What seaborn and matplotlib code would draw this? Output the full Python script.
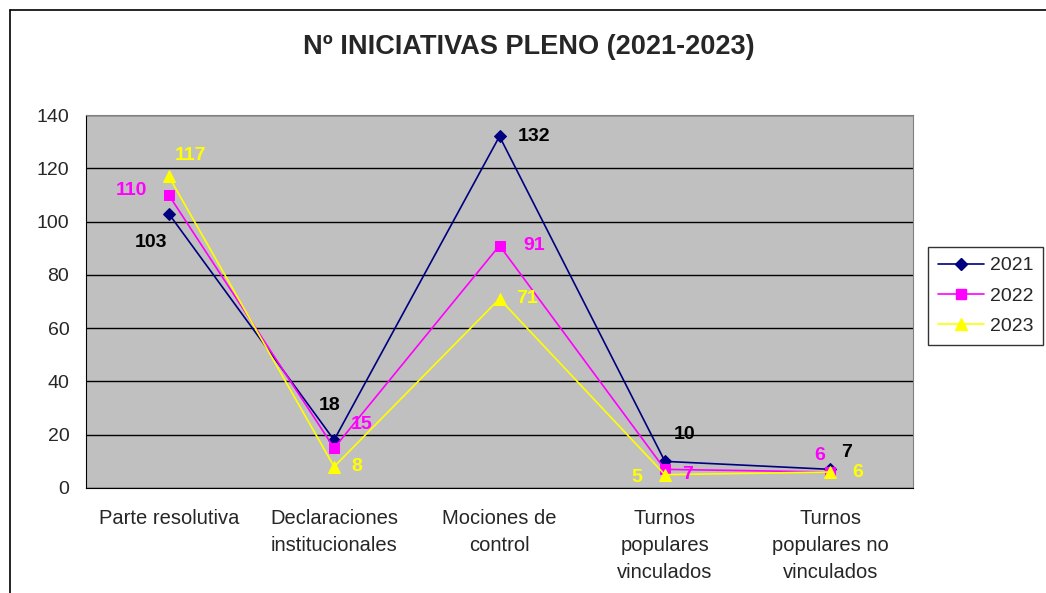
import numpy as np
import pandas as pd
import seaborn as sns
from matplotlib import pyplot as plt
from matplotlib.lines import Line2D

# datos
categorias = ["Parte resolutiva", "Declaraciones\ninstitucionales", "Mociones de\ncontrol",
              "Turnos\npopulares\nvinculados", "Turnos\npopulares no\nvinculados"]
anios = ["2021", "2022", "2023"]
v2021 = [103, 18, 132, 10, 7]
v2022 = [110, 15, 91, 7, 6]
v2023 = [117, 8, 71, 5, 6]

# estilo de cada serie
colores = ["#000080", "#FF00FF", "#FFFF00"]
colores_txt = ["#000000", "#FF00FF", "#FFFF00"]
marcadores = ["D", "s", "^"]
tam_marc = [6, 7, 8]
# desplazamiento de etiquetas (puntos)
offs = [
    [(-13, -21), (-3, 25), (25, 0), (14, 19), (12, 12)],
    [(-27, 3), (20, 17), (25, 0), (16, -4), (-8, 12)],
    [(16, 15), (16, 0), (20, 0), (-20, -2), (20, 0)],
]

x = np.arange(len(categorias))
df = pd.DataFrame({"x": np.tile(x, 3), "valor": v2021 + v2022 + v2023,
                   "anio": np.repeat(anios, len(categorias))})

sns.set_style("white")
plt.rcParams["font.family"] = ["Liberation Sans", "DejaVu Sans"]

fig = plt.figure(figsize=(10.46, 5.93), dpi=100)
ax = fig.add_axes([86 / 1046, 105 / 593, 827 / 1046, 373 / 593])
ax.set_facecolor("#C0C0C0")

for i, a in enumerate(anios):
    d = df[df["anio"] == a]
    sns.lineplot(data=d, x="x", y="valor", ax=ax, color=colores[i], marker=marcadores[i],
                 markersize=tam_marc[i], markeredgecolor=colores[i], linewidth=1.2, zorder=3 + i)
    for j, v in enumerate(d["valor"]):
        ax.annotate(str(v), (x[j], v), xytext=offs[i][j], textcoords="offset points",
                    ha="center", va="center", fontsize=14, fontweight="bold",
                    color=colores_txt[i], zorder=10)

ax.set_xlim(-0.5, len(categorias) - 0.5)
ax.set_ylim(0, 140)
ax.set_yticks(range(0, 141, 20))
ax.yaxis.grid(True, color="black", linewidth=1)
ax.set_axisbelow(True)
ax.set_xticks(x)
ax.set_xticklabels(categorias, linespacing=1.55, fontsize=14.5)
ax.set_xticks(np.arange(-0.5, len(categorias)), minor=True)
ax.tick_params(axis="x", which="major", length=0, pad=15)
ax.tick_params(axis="x", which="minor", length=5, direction="out", color="black")
ax.tick_params(axis="y", length=6, direction="out", labelsize=14, color="black", pad=6)
ax.set_xlabel("")
ax.set_ylabel("")
for s in ["top", "right"]:
    ax.spines[s].set_color("#808080")
for s in ["left", "bottom"]:
    ax.spines[s].set_color("black")

fig.text(0.506, 0.921, "Nº INICIATIVAS PLENO (2021-2023)", ha="center", va="center",
         fontsize=19.5, fontweight="bold")

handles = [Line2D([], [], color=colores[i], marker=marcadores[i], markersize=tam_marc[i],
                  linewidth=1.2, markeredgecolor=colores[i]) for i in range(3)]
leg = fig.legend(handles, anios, loc="upper left", bbox_to_anchor=(928 / 1046, 1 - 247 / 593),
                 fontsize=14, frameon=True, fancybox=False, edgecolor="black",
                 handlelength=2.4, borderpad=0.5, labelspacing=0.65, handletextpad=0.3,
                 borderaxespad=0)
leg.get_frame().set_linewidth(1)

# marco exterior
fig.add_artist(Line2D([10 / 1046, 1], [1 - 10 / 593, 1 - 10 / 593], color="black", linewidth=1.2))
fig.add_artist(Line2D([10 / 1046, 10 / 1046], [0, 1 - 10 / 593], color="black", linewidth=1.2))

fig.savefig("out.png", dpi=100)
